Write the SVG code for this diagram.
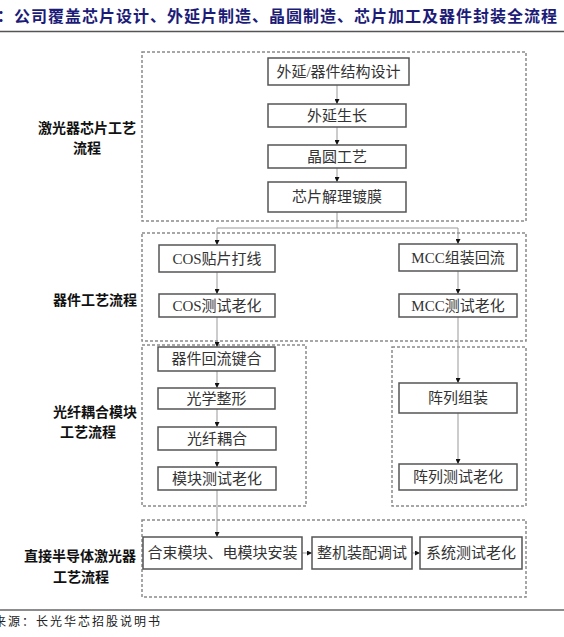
<svg xmlns="http://www.w3.org/2000/svg" width="564" height="637" viewBox="0 0 564 637">
<defs>
<marker id="ah" viewBox="0 0 6 6" refX="6" refY="3" markerWidth="5" markerHeight="5" orient="auto" markerUnits="userSpaceOnUse">
<path d="M0,0 L6,3 L0,6 z" fill="#111"/>
</marker>
<style>
.grp{fill:none;stroke:#8a8a8a;stroke-width:1.5;stroke-dasharray:3 2}
.nd{fill:#fff;stroke:#555;stroke-width:1.5}
.nt{font-family:"Liberation Serif","Noto Sans CJK SC",serif;font-size:15px;fill:#333;text-anchor:middle;dominant-baseline:central}
.lb{font-family:"Noto Sans CJK SC",sans-serif;font-size:14px;font-weight:bold;fill:#111;text-anchor:middle;dominant-baseline:central}
.cn{fill:none;stroke:#999;stroke-width:1}
.ca{fill:none;stroke:#999;stroke-width:1;marker-end:url(#ah)}
</style>
</defs>
<rect width="564" height="637" fill="#fff"/>
<g id="title">
<text x="-3" y="22" font-family="'Noto Sans CJK SC',sans-serif" font-size="16" font-weight="bold" letter-spacing="1" fill="#1c1c78">：公司覆盖芯片设计、外延片制造、晶圆制造、芯片加工及器件封装全流程</text>
<line x1="0" y1="31.5" x2="564" y2="31.5" stroke="#555" stroke-width="1.5"/>
</g>
<g id="groups">
<rect class="grp" x="142" y="52" width="384" height="169"/>
<rect class="grp" x="142" y="233" width="384" height="108"/>
<rect class="grp" x="142" y="345" width="164" height="161"/>
<rect class="grp" x="392" y="347" width="134" height="159"/>
<rect class="grp" x="142" y="520" width="384" height="77"/>
</g>
<g id="labels">
<text class="lb" x="87" y="127">激光器芯片工艺</text>
<text class="lb" x="87" y="147">流程</text>
<text class="lb" x="95" y="299">器件工艺流程</text>
<text class="lb" x="95" y="411">光纤耦合模块</text>
<text class="lb" x="88" y="431">工艺流程</text>
<text class="lb" x="80" y="555">直接半导体激光器</text>
<text class="lb" x="81" y="576">工艺流程</text>
</g>
<g id="connectors">
<line class="ca" x1="337" y1="85" x2="337" y2="104"/>
<line class="ca" x1="337" y1="127" x2="337" y2="145"/>
<line class="ca" x1="337" y1="168" x2="337" y2="182"/>
<polyline class="cn" points="337,212 337,228"/>
<polyline class="cn" points="217,228 458,228"/>
<line class="ca" x1="217" y1="228" x2="217" y2="245"/>
<line class="ca" x1="458" y1="228" x2="458" y2="244"/>
<line class="ca" x1="217" y1="272" x2="217" y2="294"/>
<line class="ca" x1="458" y1="271" x2="458" y2="294"/>
<line class="ca" x1="217" y1="317" x2="217" y2="347"/>
<line class="ca" x1="217" y1="371" x2="217" y2="388"/>
<line class="ca" x1="217" y1="409" x2="217" y2="427"/>
<line class="ca" x1="217" y1="450" x2="217" y2="467"/>
<line class="ca" x1="217" y1="490" x2="217" y2="537"/>
<line class="ca" x1="458" y1="317" x2="458" y2="383"/>
<line class="ca" x1="458" y1="413" x2="458" y2="464"/>
<line class="ca" x1="302" y1="553" x2="312" y2="553"/>
<line class="ca" x1="412" y1="553" x2="420" y2="553"/>
</g>
<g id="n1"><rect class="nd" x="268" y="58" width="141" height="27"/><text class="nt" x="338.5" y="71.5">外延/器件结构设计</text></g>
<g id="n2"><rect class="nd" x="268" y="104" width="138" height="23"/><text class="nt" x="337" y="115.5">外延生长</text></g>
<g id="n3"><rect class="nd" x="268" y="145" width="138" height="23"/><text class="nt" x="337" y="156.5">晶圆工艺</text></g>
<g id="n4"><rect class="nd" x="268" y="182" width="138" height="30"/><text class="nt" x="337" y="197">芯片解理镀膜</text></g>
<g id="n5"><rect class="nd" x="159" y="245" width="116" height="27"/><text class="nt" x="217" y="258.5">COS贴片打线</text></g>
<g id="n6"><rect class="nd" x="159" y="294" width="116" height="23"/><text class="nt" x="217" y="305.5">COS测试老化</text></g>
<g id="n7"><rect class="nd" x="399" y="244" width="118" height="27"/><text class="nt" x="458" y="257.5">MCC组装回流</text></g>
<g id="n8"><rect class="nd" x="399" y="294" width="118" height="23"/><text class="nt" x="458" y="305.5">MCC测试老化</text></g>
<g id="n9"><rect class="nd" x="158" y="347" width="117" height="24"/><text class="nt" x="216.5" y="359">器件回流键合</text></g>
<g id="n10"><rect class="nd" x="158" y="388" width="117" height="21"/><text class="nt" x="216.5" y="398.5">光学整形</text></g>
<g id="n11"><rect class="nd" x="158" y="427" width="118" height="23"/><text class="nt" x="217" y="438.5">光纤耦合</text></g>
<g id="n12"><rect class="nd" x="158" y="467" width="118" height="23"/><text class="nt" x="217" y="478.5">模块测试老化</text></g>
<g id="n13"><rect class="nd" x="399" y="383" width="118" height="30"/><text class="nt" x="458" y="398">阵列组装</text></g>
<g id="n14"><rect class="nd" x="399" y="464" width="118" height="26"/><text class="nt" x="458" y="477">阵列测试老化</text></g>
<g id="n15"><rect class="nd" x="143" y="537" width="159" height="32"/><text class="nt" x="222.5" y="553">合束模块、电模块安装</text></g>
<g id="n16"><rect class="nd" x="312" y="537" width="100" height="32"/><text class="nt" x="362" y="553">整机装配调试</text></g>
<g id="n17"><rect class="nd" x="420" y="537" width="102" height="32"/><text class="nt" x="471" y="553">系统测试老化</text></g>
<g id="footer">
<line x1="0" y1="610" x2="564" y2="610" stroke="#666" stroke-width="1.5"/>
<text x="-6" y="626" font-family="'Noto Sans CJK SC',sans-serif" font-size="12" letter-spacing="2" fill="#222">来源：长光华芯招股说明书</text>
</g>
</svg>
